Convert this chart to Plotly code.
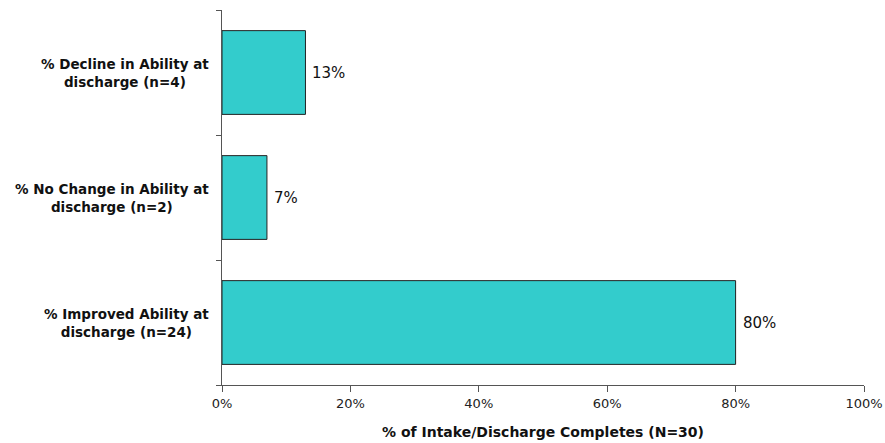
import plotly.graph_objects as go

categories = [
    "% Improved Ability at<br>discharge (n=24)",
    "% No Change in Ability at<br>discharge (n=2)",
    "% Decline in Ability at<br>discharge (n=4)",
]
values = [80, 7, 13]
value_labels = ["80%", "7%", "13%"]
x_ticks = [0, 20, 40, 60, 80, 100]
x_tick_labels = ["0%", "20%", "40%", "60%", "80%", "100%"]

fig = go.Figure()
fig.add_trace(go.Bar(
    y=categories, x=values, orientation="h",
    marker=dict(color="#33CCCC", line=dict(color="#222222", width=1)),
    width=0.67,
    hoverinfo="skip",
))

for c, v, t in zip(categories, values, value_labels):
    fig.add_annotation(
        x=v, xref="x", y=c, yref="y", xanchor="left", xshift=5,
        text=t, showarrow=False,
        font=dict(family="DejaVu Sans", size=15, color="#111111"),
    )
    fig.add_annotation(
        x=0, xref="paper", y=c, yref="y", xanchor="right", xshift=-11,
        text="<b>" + c + "</b>", showarrow=False, align="center",
        font=dict(family="DejaVu Sans", size=13.5, color="#111111"),
    )

fig.update_layout(
    width=885, height=443,
    margin=dict(l=222, r=21, t=10, b=58),
    plot_bgcolor="white", paper_bgcolor="white",
    showlegend=False,
)
fig.update_xaxes(
    range=[0, 100], tickvals=x_ticks, ticktext=x_tick_labels, automargin=False,
    showgrid=False, zeroline=False, showline=True, linecolor="#555555", linewidth=1,
    ticks="outside", ticklen=6, tickcolor="#555555",
    tickfont=dict(family="DejaVu Sans", size=13, color="#222222"),
    title=dict(text="<b>% of Intake/Discharge Completes (N=30)</b>",
               font=dict(family="DejaVu Sans", size=14, color="#111111"), standoff=17),
)
fig.update_yaxes(
    type="category", tickson="boundaries", showticklabels=False, automargin=False,
    showgrid=False, zeroline=False, showline=True, linecolor="#555555", linewidth=1,
    ticks="outside", ticklen=5, tickcolor="#555555",
    range=[-0.5, 2.5],
)

fig.write_html("out.html")
